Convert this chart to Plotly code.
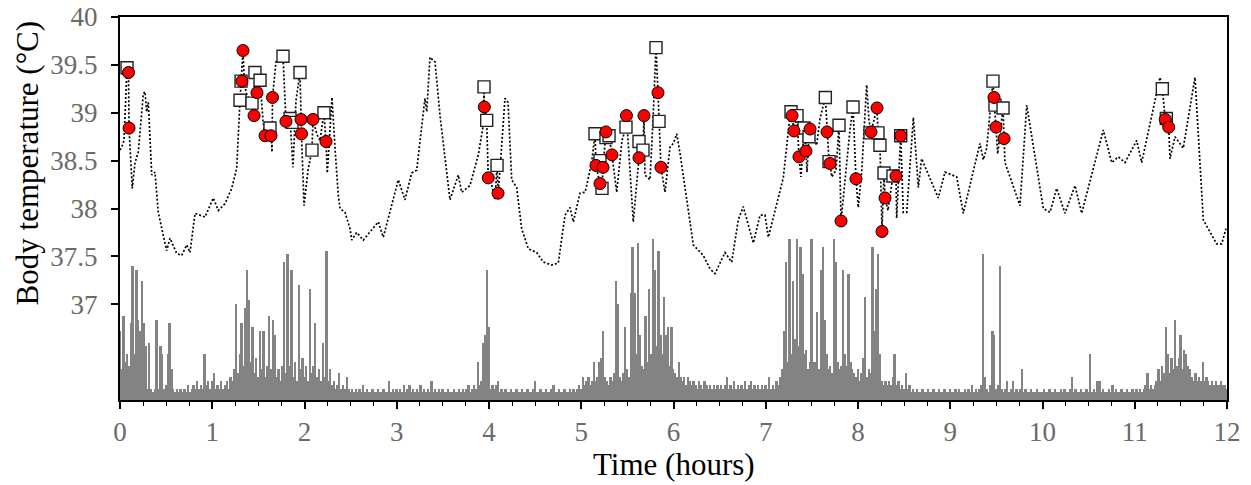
import plotly.graph_objects as go

# ---------------- data ----------------
# Body temperature trace (time in hours, temperature in deg C)
temp_time = [
    0.000, 0.018, 0.043, 0.076, 0.092, 0.098, 0.133, 0.163, 0.198, 0.253,
    0.271, 0.289, 0.307, 0.344, 0.379, 0.415, 0.469, 0.506, 0.542, 0.615,
    0.669, 0.723, 0.759, 0.813, 0.921, 1.011, 1.066, 1.138, 1.211, 1.265,
    1.301, 1.333, 1.350, 1.377, 1.431, 1.453, 1.463, 1.485, 1.518, 1.550,
    1.572, 1.604, 1.626, 1.637, 1.648, 1.653, 1.691, 1.767, 1.799, 1.843,
    1.875, 1.908, 1.951, 1.962, 1.967, 1.995, 2.038, 2.081, 2.092, 2.136,
    2.168, 2.211, 2.233, 2.247, 2.298, 2.331, 2.366, 2.385, 2.439, 2.493,
    2.512, 2.566, 2.637, 2.800, 2.854, 3.017, 3.089, 3.162, 3.216, 3.306,
    3.325, 3.360, 3.415, 3.469, 3.577, 3.667, 3.704, 3.794, 3.884, 3.938,
    3.946, 3.949, 3.975, 3.992, 4.011, 4.065, 4.087, 4.098, 4.119, 4.173,
    4.206, 4.246, 4.300, 4.354, 4.426, 4.517, 4.589, 4.680, 4.751, 4.824,
    4.878, 4.914, 4.986, 5.041, 5.059, 5.113, 5.149, 5.160, 5.203, 5.225,
    5.236, 5.268, 5.301, 5.333, 5.384, 5.442, 5.485, 5.490, 5.528, 5.564,
    5.626, 5.630, 5.669, 5.680, 5.691, 5.745, 5.778, 5.810, 5.832, 5.843,
    5.864, 5.908, 5.962, 5.998, 6.035, 6.070, 6.106, 6.160, 6.215, 6.323,
    6.396, 6.450, 6.558, 6.631, 6.702, 6.756, 6.865, 6.938, 6.992, 7.028,
    7.190, 7.263, 7.274, 7.285, 7.306, 7.339, 7.360, 7.382, 7.415, 7.436,
    7.447, 7.469, 7.480, 7.552, 7.588, 7.646, 7.664, 7.686, 7.696, 7.715,
    7.762, 7.794, 7.816, 7.859, 7.913, 7.946, 7.978, 8.003, 8.040, 8.094,
    8.119, 8.141, 8.206, 8.217, 8.238, 8.260, 8.282, 8.293, 8.325, 8.379,
    8.412, 8.419, 8.463, 8.491, 8.528, 8.600, 8.654, 8.690, 8.870, 8.943,
    9.070, 9.141, 9.287, 9.322, 9.358, 9.395, 9.463, 9.474, 9.485, 9.496,
    9.514, 9.572, 9.583, 9.593, 9.666, 9.756, 9.829, 10.009, 10.081, 10.154,
    10.244, 10.352, 10.425, 10.551, 10.659, 10.750, 10.822, 10.894, 11.021, 11.075,
    11.274, 11.299, 11.331, 11.368, 11.382, 11.436, 11.526, 11.653, 11.743, 11.888,
    11.943, 11.989,
]
temp_value = [
    38.61, 38.64, 38.71, 39.47, 39.42, 38.84, 38.21, 38.48, 38.59, 39.20,
    39.22, 39.01, 39.11, 38.35, 38.38, 37.96, 37.72, 37.56, 37.69, 37.53,
    37.51, 37.62, 37.54, 37.95, 37.91, 38.11, 37.98, 38.05, 38.21, 38.42,
    39.13, 39.65, 39.29, 39.18, 39.10, 38.97, 39.42, 39.21, 39.34, 38.92,
    38.76, 38.84, 38.84, 38.76, 38.59, 39.16, 39.53, 39.59, 38.91, 38.94,
    38.43, 39.13, 39.42, 38.93, 38.78, 38.03, 38.40, 38.61, 38.93, 38.77,
    38.71, 39.00, 38.70, 38.37, 39.16, 38.63, 38.14, 38.00, 37.96, 37.79,
    37.67, 37.75, 37.67, 37.86, 37.70, 38.30, 38.09, 38.37, 38.40, 39.15,
    39.01, 39.58, 39.53, 38.97, 38.09, 38.35, 38.17, 38.24, 38.56, 38.87,
    39.27, 39.06, 38.92, 38.32, 38.33, 38.09, 38.45, 38.16, 38.40, 39.15,
    39.11, 38.30, 38.22, 37.79, 37.58, 37.54, 37.44, 37.41, 37.43, 37.93,
    38.01, 37.86, 38.16, 38.17, 38.24, 38.48, 38.78, 38.45, 38.26, 38.21,
    38.43, 38.80, 38.76, 38.56, 38.17, 38.71, 38.85, 38.97, 38.40, 37.86,
    38.53, 38.70, 38.61, 38.97, 38.35, 38.30, 38.92, 39.68, 39.21, 38.91,
    38.43, 38.17, 38.64, 38.68, 38.78, 38.58, 38.33, 37.96, 37.62, 37.51,
    37.37, 37.32, 37.54, 37.44, 37.88, 38.02, 37.64, 37.93, 37.93, 37.70,
    38.32, 38.97, 39.00, 38.97, 38.81, 38.97, 38.54, 38.33, 38.84, 38.60,
    38.38, 38.75, 38.83, 38.66, 38.94, 39.16, 38.80, 38.49, 38.47, 38.33,
    38.40, 38.87, 37.87, 38.30, 38.82, 39.06, 38.31, 38.01, 38.38, 39.29,
    38.92, 38.80, 39.05, 38.79, 38.66, 37.76, 38.37, 38.11, 37.98, 38.34,
    38.34, 37.90, 38.76, 37.96, 37.96, 38.95, 38.22, 38.52, 38.11, 38.38,
    38.33, 37.95, 38.54, 38.68, 38.51, 38.63, 39.33, 39.16, 39.08, 38.85,
    38.57, 39.05, 38.73, 38.48, 38.28, 38.03, 39.08, 38.00, 37.96, 38.21,
    37.95, 38.24, 37.95, 38.42, 38.82, 38.48, 38.54, 38.48, 38.71, 38.48,
    39.37, 39.25, 38.93, 38.85, 38.52, 38.75, 38.63, 39.37, 37.88, 37.63,
    37.63, 37.79,
]

# White squares
square_time = [0.076, 1.301, 1.312, 1.431, 1.463, 1.518, 1.626, 1.767, 1.843, 1.865,
               1.951, 2.081, 2.211, 3.946, 3.975, 4.087, 5.149, 5.203, 5.225, 5.268,
               5.301, 5.485, 5.626, 5.669, 5.810, 5.843, 7.274, 7.339, 7.415, 7.469,
               7.646, 7.686, 7.794, 7.946, 8.130, 8.217, 8.238, 8.282, 8.379, 8.463,
               9.463, 9.485, 9.572, 11.299, 11.342]
square_temp = [39.47, 39.13, 39.33, 39.10, 39.42, 39.34, 38.84, 39.59, 38.94, 38.90,
               39.42, 38.61, 39.00, 39.27, 38.92, 38.45, 38.78, 38.50, 38.21, 38.74,
               38.76, 38.85, 38.70, 38.61, 39.68, 38.91, 39.01, 38.97, 38.84, 38.75,
               39.16, 38.49, 38.87, 39.06, 38.79, 38.79, 38.66, 38.37, 38.34, 38.76,
               39.33, 39.08, 39.05, 39.25, 38.94]

# Red circles
circle_time = [0.092, 0.098, 1.322, 1.333, 1.453, 1.485, 1.572, 1.637, 1.653, 1.799,
               1.962, 1.967, 2.092, 2.233, 3.949, 3.992, 4.098, 5.160, 5.203, 5.236,
               5.268, 5.333, 5.490, 5.626, 5.680, 5.832, 5.864, 7.285, 7.306, 7.360,
               7.436, 7.480, 7.664, 7.696, 7.816, 7.978, 8.141, 8.206, 8.260, 8.293,
               8.412, 8.463, 9.474, 9.496, 9.583, 11.331, 11.368]
circle_temp = [39.42, 38.84, 39.33, 39.65, 38.97, 39.21, 38.76, 38.76, 39.16, 38.91,
               38.93, 38.78, 38.93, 38.70, 39.06, 38.32, 38.16, 38.45, 38.26, 38.43,
               38.80, 38.56, 38.97, 38.53, 38.97, 39.21, 38.43, 38.97, 38.81, 38.54,
               38.60, 38.83, 38.80, 38.47, 37.87, 38.31, 38.80, 39.05, 37.76, 38.11,
               38.34, 38.76, 39.16, 38.85, 38.73, 38.93, 38.85]

# Activity (arbitrary units, sampled every 0.02 h from t = 0 h); one row = half an hour
act_start_h = 0.0
act_step_h = 0.02
activity = [
    18, 8, 22, 10, 12, 9, 20, 35, 12, 34, 21, 18, 31, 20, 14, 3, 15, 3, 2, 3, 21, 3, 14, 12, 3,
    4, 12, 20, 8, 3, 2, 3, 2, 3, 2, 3, 2, 4, 2, 3, 4, 3, 5, 3, 4, 3, 12, 4, 5, 3,
    5, 7, 3, 4, 3, 5, 3, 4, 5, 3, 6, 5, 8, 25, 7, 12, 20, 9, 24, 34, 26, 10, 19, 7, 11,
    6, 18, 8, 18, 6, 9, 22, 8, 21, 17, 6, 8, 5, 9, 36, 7, 38, 9, 34, 6, 10, 5, 30, 8, 11,
    6, 9, 5, 29, 7, 9, 20, 6, 8, 5, 15, 6, 39, 5, 8, 4, 5, 3, 4, 7, 3, 4, 3, 6, 3,
    2, 3, 2, 3, 2, 3, 2, 4, 2, 3, 2, 2, 3, 2, 2, 3, 2, 2, 3, 2, 2, 5, 2, 3, 2,
    3, 2, 3, 2, 4, 2, 3, 4, 2, 3, 2, 3, 2, 4, 2, 3, 2, 3, 2, 5, 2, 3, 2, 3, 2,
    3, 2, 2, 3, 2, 2, 3, 2, 2, 3, 2, 3, 2, 3, 4, 2, 3, 4, 3, 10, 4, 5, 15, 17, 34,
    19, 3, 4, 3, 4, 5, 2, 3, 2, 3, 2, 2, 3, 2, 2, 3, 2, 2, 3, 2, 2, 3, 2, 2, 3,
    5, 2, 2, 3, 2, 2, 3, 2, 2, 3, 4, 2, 2, 3, 2, 2, 3, 2, 2, 3, 2, 3, 2, 3, 4,
    3, 6, 4, 5, 6, 4, 5, 10, 5, 6, 10, 11, 18, 6, 5, 4, 6, 5, 7, 31, 25, 6, 5, 7, 19,
    8, 6, 28, 40, 28, 12, 41, 17, 9, 8, 22, 10, 29, 12, 42, 34, 14, 39, 17, 12, 27, 17, 19, 9, 19,
    8, 7, 6, 10, 6, 5, 6, 4, 6, 5, 4, 5, 4, 3, 5, 4, 3, 5, 4, 3, 4, 3, 4, 3, 4,
    3, 4, 3, 4, 6, 3, 4, 3, 5, 3, 4, 3, 4, 3, 5, 3, 4, 5, 3, 4, 3, 4, 3, 4, 3,
    4, 3, 6, 3, 4, 3, 5, 4, 6, 8, 18, 36, 10, 42, 12, 31, 16, 42, 14, 40, 33, 12, 13, 8, 10,
    42, 10, 10, 23, 8, 34, 40, 21, 12, 8, 9, 7, 42, 36, 10, 8, 9, 34, 12, 9, 33, 10, 8, 7, 6,
    8, 5, 7, 11, 27, 6, 8, 7, 40, 18, 29, 38, 12, 5, 4, 5, 4, 5, 4, 6, 12, 4, 5, 3, 4,
    3, 7, 3, 4, 2, 3, 2, 3, 2, 2, 3, 2, 2, 3, 2, 2, 3, 2, 2, 3, 2, 2, 3, 2, 2,
    3, 2, 2, 3, 2, 3, 2, 2, 3, 2, 3, 2, 4, 2, 3, 2, 3, 4, 38, 6, 3, 2, 4, 18, 17,
    3, 4, 35, 3, 2, 3, 5, 2, 3, 5, 2, 3, 2, 3, 8, 2, 3, 2, 2, 3, 2, 2, 3, 2, 2,
    2, 3, 2, 2, 3, 2, 2, 3, 2, 2, 3, 2, 3, 2, 2, 3, 6, 2, 3, 2, 2, 3, 2, 2, 3,
    2, 12, 2, 3, 2, 5, 5, 2, 3, 2, 2, 3, 2, 4, 2, 3, 2, 2, 3, 2, 2, 3, 2, 2, 3,
    2, 3, 2, 3, 2, 3, 4, 7, 3, 4, 3, 4, 5, 8, 5, 9, 7, 19, 12, 7, 11, 8, 21, 9, 11,
    17, 8, 13, 12, 9, 8, 6, 5, 7, 5, 6, 5, 10, 5, 6, 5, 4, 5, 4, 5, 4, 4, 5, 4, 4,
    3,
]

x_ticks = [0, 1, 2, 3, 4, 5, 6, 7, 8, 9, 10, 11, 12]
y_ticks = [37, 37.5, 38, 38.5, 39, 39.5, 40]
y_tick_text = ["37", "37.5", "38", "38.5", "39", "39.5", "40"]

# ---------------- figure ----------------
FONT = "Liberation Serif, Times New Roman, serif"
fig = go.Figure()

fig.add_trace(go.Bar(
    x0=act_start_h, dx=act_step_h, y=activity, yaxis="y2",
    marker=dict(color="#838383", line=dict(width=0)),
    hoverinfo="skip", showlegend=False,
))
fig.add_trace(go.Scatter(
    x=temp_time, y=temp_value, mode="lines",
    line=dict(color="black", width=1.7, dash="2px,2px"), showlegend=False,
))
fig.add_trace(go.Scatter(
    x=square_time, y=square_temp, mode="markers",
    marker=dict(symbol="square", size=12, color="white", line=dict(color="#222222", width=1.4)),
    showlegend=False,
))
fig.add_trace(go.Scatter(
    x=circle_time, y=circle_temp, mode="markers",
    marker=dict(symbol="circle", size=12, color="#ff0000", line=dict(color="black", width=1)),
    showlegend=False,
))

fig.update_layout(
    width=1251, height=485,
    margin=dict(l=120, r=24, t=17, b=85, autoexpand=False),
    paper_bgcolor="white", plot_bgcolor="white",
    font=dict(family=FONT, color="black"),
    bargap=0,
    xaxis=dict(
        range=[0, 12], tickvals=x_ticks, ticks="outside", ticklen=7, tickwidth=1.5,
        tickcolor="black", showline=True, linecolor="black", linewidth=1.5, mirror=True,
        showgrid=False, zeroline=False, ticklabelstandoff=0, automargin=False,
        tickfont=dict(family=FONT, size=27, color="#6a6a6a"),
        minor=dict(dtick=0.25, ticks="outside", ticklen=4, tickwidth=1.3,
                   tickcolor="black", showgrid=False),
    ),
    yaxis=dict(
        range=[36, 40], tickvals=y_ticks, ticktext=y_tick_text, ticks="outside",
        ticklen=7, tickwidth=1.5, tickcolor="black", showline=True, linecolor="black",
        linewidth=2, mirror=True, showgrid=False, zeroline=False, ticklabelstandoff=8,
        automargin=False,
        tickfont=dict(family=FONT, size=27, color="#6a6a6a"),
    ),
    yaxis2=dict(range=[0, 100], overlaying="y", visible=False),
    annotations=[
        dict(text="Time (hours)", xref="paper", yref="paper", x=0.5, y=-0.168,
             xanchor="center", yanchor="middle", showarrow=False,
             font=dict(family=FONT, size=31, color="black")),
        dict(text="Body temperature (°C)", xref="paper", yref="paper", x=-0.0836, y=0.619,
             xanchor="center", yanchor="middle", textangle=-90, showarrow=False,
             font=dict(family=FONT, size=31, color="black")),
    ],
)

fig.write_html(
    "out.html",
    config={"displayModeBar": False},
    post_script="document.body.style.margin='0px';document.body.style.overflow='hidden';",
)
